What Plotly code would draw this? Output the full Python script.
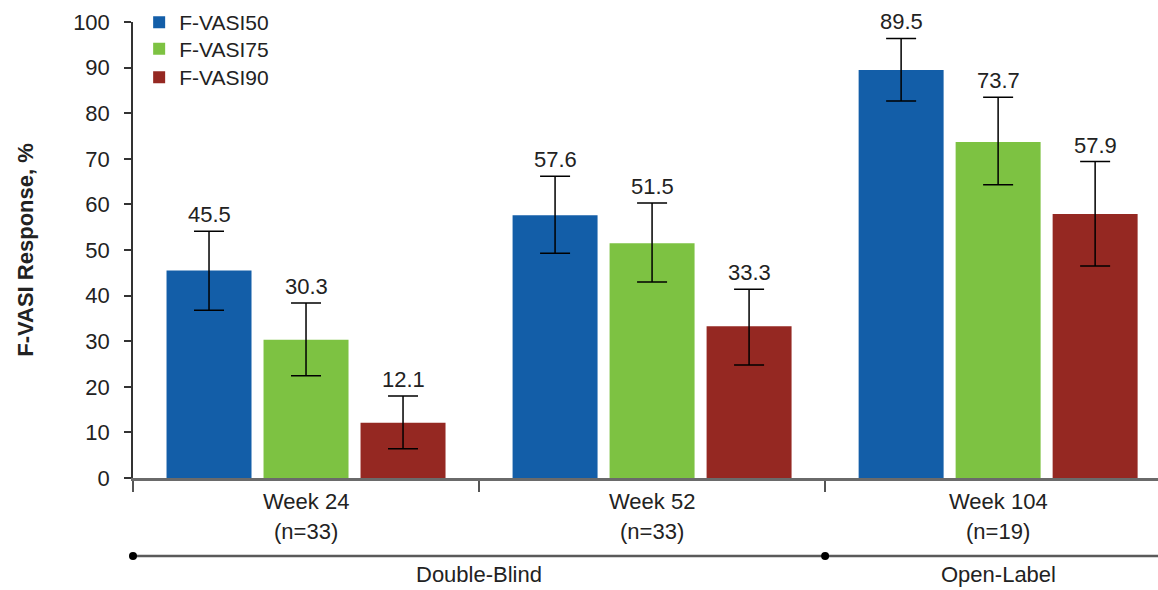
import plotly.graph_objects as go

# ---- data ----
categories = ["Week 24", "Week 52", "Week 104"]
n_labels = ["(n=33)", "(n=33)", "(n=19)"]
series_names = ["F-VASI50", "F-VASI75", "F-VASI90"]
vasi50 = [45.5, 57.6, 89.5]
vasi75 = [30.3, 51.5, 73.7]
vasi90 = [12.1, 33.3, 57.9]
vasi50_upper = [54.1, 66.2, 96.4]
vasi50_lower = [36.8, 49.3, 82.7]
vasi75_upper = [38.4, 60.3, 83.5]
vasi75_lower = [22.4, 43.0, 64.3]
vasi90_upper = [18.0, 41.4, 69.4]
vasi90_lower = [6.4, 24.8, 46.5]
phases = ["Double-Blind", "Open-Label"]
yticks = [0, 10, 20, 30, 40, 50, 60, 70, 80, 90, 100]

# ---- style ----
FONT = "Liberation Sans, Arial, sans-serif"
TXT = "#222222"
FS = 22
colors = ["#135EA8", "#7DC242", "#952822"]
BARGAP = 0.159
GROUPGAP = 0.124
slot = (1 - BARGAP) / 3

values = [vasi50, vasi75, vasi90]
uppers = [vasi50_upper, vasi75_upper, vasi90_upper]
lowers = [vasi50_lower, vasi75_lower, vasi90_lower]
xs = list(range(len(categories)))

fig = go.Figure()
legend_ids = ["legend", "legend2", "legend3"]
for j, (name, vals, up, lo, col) in enumerate(zip(series_names, values, uppers, lowers, colors)):
    fig.add_trace(go.Bar(
        x=xs, y=vals, name=name,
        marker=dict(color=col, line=dict(width=0)),
        error_y=dict(type="data", symmetric=False,
                     array=[u - v for u, v in zip(up, vals)],
                     arrayminus=[v - l for v, l in zip(vals, lo)],
                     color="black", thickness=1.5, width=15),
        legend=legend_ids[j],
        hoverinfo="skip",
    ))
    for i, (v, u) in enumerate(zip(vals, up)):
        fig.add_annotation(x=i + (j - 1) * slot, y=u, text=f"{v:.1f}",
                           showarrow=False, yanchor="bottom", yshift=2,
                           font=dict(family=FONT, size=FS, color=TXT))

# category labels
for i, (c, n) in enumerate(zip(categories, n_labels)):
    fig.add_annotation(x=i, y=-0.0526, xref="x", yref="paper", text=c, showarrow=False,
                       yanchor="middle", font=dict(family=FONT, size=FS, color=TXT))
    fig.add_annotation(x=i, y=-0.118, xref="x", yref="paper", text=n, showarrow=False,
                       yanchor="middle", font=dict(family=FONT, size=FS, color=TXT))

# phase bar
LINE_Y = -0.171
fig.add_shape(type="line", xref="paper", yref="paper", x0=0, x1=1, y0=LINE_Y, y1=LINE_Y,
              line=dict(color="#5a5a5a", width=2.5))
fig.add_shape(type="circle", xref="paper", yref="paper", xsizemode="pixel", ysizemode="pixel",
              xanchor=0, yanchor=LINE_Y, x0=-4, x1=4, y0=-4, y1=4,
              fillcolor="black", line=dict(width=0))
fig.add_shape(type="circle", xref="x", yref="paper", xsizemode="pixel", ysizemode="pixel",
              xanchor=1.5, yanchor=LINE_Y, x0=-4, x1=4, y0=-4, y1=4,
              fillcolor="black", line=dict(width=0))
PHASE_Y = -0.2445
fig.add_annotation(x=0.5, y=PHASE_Y, xref="x", yref="paper", text=phases[0], showarrow=False,
                   yanchor="bottom", font=dict(family=FONT, size=FS, color=TXT))
fig.add_annotation(x=2, y=PHASE_Y, xref="x", yref="paper", text=phases[1], showarrow=False,
                   yanchor="bottom", font=dict(family=FONT, size=FS, color=TXT))

leg_common = dict(x=0.006, xanchor="left", yanchor="middle", bgcolor="rgba(0,0,0,0)",
                  font=dict(family=FONT, size=21, color=TXT), borderwidth=0)
fig.update_layout(
    width=1158, height=590,
    margin=dict(l=133, r=0, t=22, b=112),
    paper_bgcolor="white", plot_bgcolor="white",
    barmode="group", bargap=BARGAP, bargroupgap=GROUPGAP,
    showlegend=True,
    legend=dict(y=0.9989, **leg_common),
    legend2=dict(y=0.9408, **leg_common),
    legend3=dict(y=0.8783, **leg_common),
    xaxis=dict(range=[-0.5, 2.462], tickvals=[-0.5, 0.5, 1.5, 2.5], showticklabels=False,
               ticks="outside", ticklen=11, tickwidth=1.5, tickcolor="#555555",
               showline=True, linecolor="#6a6a6a", linewidth=2.5, showgrid=False,
               zeroline=False, fixedrange=True),
    yaxis=dict(range=[0, 100], tickvals=yticks, ticks="outside", ticklen=7, tickwidth=1.5,
               tickcolor="#333333", showline=True, linecolor="#333333", linewidth=1.5,
               showgrid=False, zeroline=False, automargin=False, ticklabelstandoff=10,
               tickfont=dict(family=FONT, size=FS, color=TXT), fixedrange=True,
               title=dict(text="<b>F-VASI Response, %</b>", standoff=33,
                          font=dict(family=FONT, size=FS, color=TXT))),
)

fig.write_html("out.html", config={"displayModeBar": False},
               post_script="document.body.style.margin='0';document.body.style.overflow='hidden';")
